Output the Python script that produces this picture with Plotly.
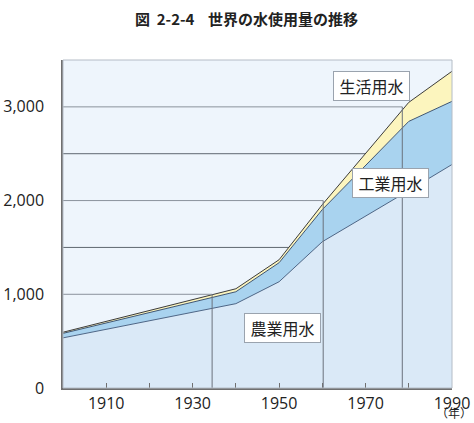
import plotly.graph_objects as go

years = [1900, 1940, 1950, 1960, 1980, 1990]
agriculture = [535, 900, 1134, 1561, 2107, 2385]
industry = [48, 127, 203, 343, 738, 674]
domestic = [12, 32, 32, 53, 203, 321]

series_names = ["農業用水", "工業用水", "生活用水"]
ytick_vals = [0, 1000, 2000, 3000]
ytick_text = ["0", "1,000", "2,000", "3,000"]
xtick_vals = list(range(1900, 1991, 10))
xtick_text = ["", "1910", "", "1930", "", "1950", "", "1970", "", "1990"]

guide_levels = [1000, 2000, 3000]
guide_years = [1934.5, 1960.2, 1978.5]
mid_levels = [1500, 2500]

fig = go.Figure()
fills = ["#DAE9F7", "#A9D3EF", "#FCF5BE"]
lines = ["#4E6686", "#3E5573", "#3C3C3C"]
for name, vals, fc, lc in zip(series_names, [agriculture, industry, domestic], fills, lines):
    fig.add_trace(go.Scatter(x=years, y=vals, name=name, stackgroup="one", mode="lines",
                             line=dict(color=lc, width=1), fillcolor=fc, showlegend=False))

shapes = []
for lv in mid_levels:
    shapes.append(dict(type="line", xref="x", yref="y", x0=1900, x1=1990, y0=lv, y1=lv,
                       line=dict(color="#5F6770", width=1), layer="below"))
for lv, yr in zip(guide_levels, guide_years):
    shapes.append(dict(type="line", xref="x", yref="y", x0=1900, x1=yr, y0=lv, y1=lv,
                       line=dict(color="#8A929C", width=1), layer="above"))
    shapes.append(dict(type="line", xref="x", yref="y", x0=yr, x1=yr, y0=lv, y1=0,
                       line=dict(color="#6A727C", width=1), layer="above"))
shapes.append(dict(type="rect", xref="paper", yref="paper", x0=0, x1=1, y0=0, y1=1,
                   line=dict(color="#B4BCC6", width=1), layer="above"))

ann_font = dict(family="Noto Sans CJK JP", size=16, color="#222222")
annotations = []
for text, ax, ay in [("生活用水", 0.794, 0.921), ("工業用水", 0.843, 0.625), ("農業用水", 0.563, 0.183)]:
    annotations.append(dict(text="&nbsp;" + text + "&nbsp;", x=ax, y=ay, xref="paper", yref="paper",
                            showarrow=False, font=ann_font, bgcolor="white", bordercolor="#9AA3AE",
                            borderwidth=1, borderpad=2, xanchor="center", yanchor="middle"))
annotations.append(dict(text="（年）", x=1.057, y=-0.107, xref="paper", yref="paper", showarrow=False,
                        font=dict(family="Noto Sans CJK JP", size=12, color="#222222"),
                        xanchor="right", yanchor="bottom"))

fig.update_layout(
    width=474, height=423,
    margin=dict(l=63, r=22, t=60, b=35),
    paper_bgcolor="white", plot_bgcolor="#EEF5FC",
    title=dict(text="<b>図&nbsp;&nbsp;2-2-4&nbsp;&nbsp;&nbsp;&nbsp;世界の水使用量の推移</b>", x=0.52,
               xanchor="center", y=0.953, yanchor="middle",
               font=dict(family="Noto Sans CJK JP", size=15, color="#222222")),
    shapes=shapes, annotations=annotations,
    xaxis=dict(range=[1900, 1990], tickvals=xtick_vals, ticktext=xtick_text, showgrid=False,
               zeroline=False, showline=True, linecolor="#707070", linewidth=1.5,
               ticks="inside", ticklen=5, tickcolor="#707070", automargin=False,
               tickfont=dict(family="Open Sans", size=16, color="#222222")),
    yaxis=dict(range=[0, 3500], tickvals=ytick_vals, ticktext=ytick_text, showgrid=False,
               zeroline=False, showline=True, linecolor="#707070", linewidth=1.5, ticks="",
               ticklabelstandoff=14, automargin=False,
               tickfont=dict(family="Open Sans", size=16, color="#222222")),
)
fig.write_html("out.html")
